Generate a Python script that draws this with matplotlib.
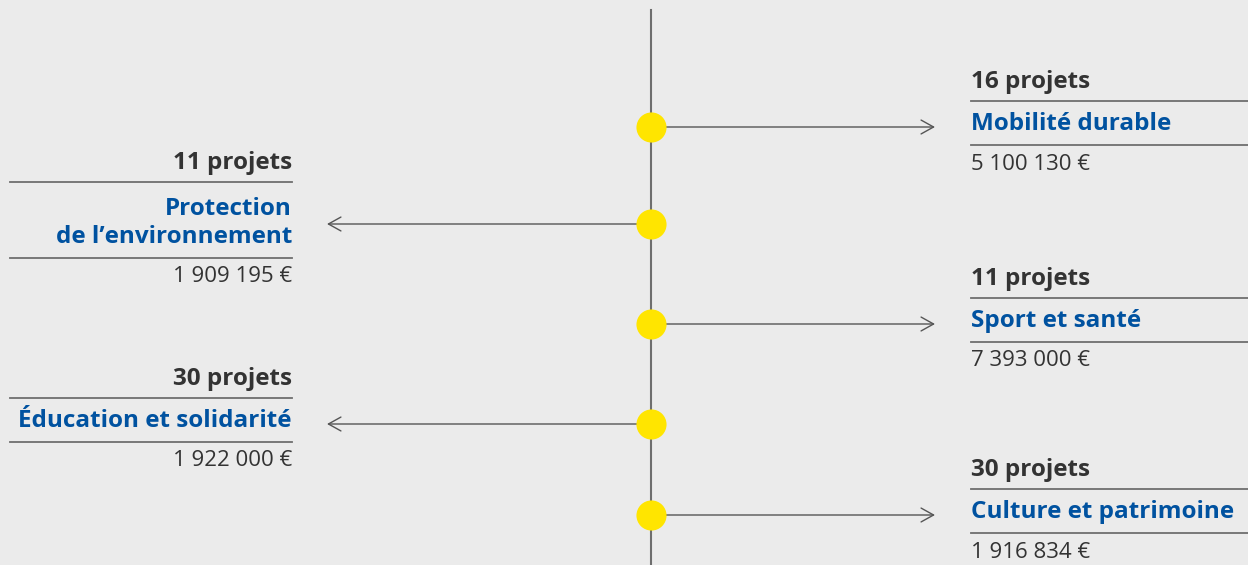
import matplotlib.pyplot as plt

plt.rcParams['font.family'] = ['Open Sans', 'DejaVu Sans']

# data
themes = ["Mobilité durable", "Protection\nde l’environnement", "Sport et santé",
          "Éducation et solidarité", "Culture et patrimoine"]
projects = [16, 11, 11, 30, 30]
amounts = ["5 100 130 €", "1 909 195 €", "7 393 000 €", "1 922 000 €", "1 916 834 €"]
sides = ["right", "left", "right", "left", "right"]

# layout (pixels)
W, H = 1248, 565
SPINE_X = 651
DOT_Y = [127, 224, 324, 424, 515]
BG = "#ebebeb"
DARK = "#333333"
BLUE = "#0052a0"
LINE = "#6e6e6e"

fig = plt.figure(figsize=(W / 100, H / 100), dpi=100, facecolor=BG)
ax = fig.add_axes([0, 0, 1, 1])
ax.set_xlim(0, W)
ax.set_ylim(H, 0)
ax.axis("off")
ax.set_facecolor(BG)

ax.plot([SPINE_X, SPINE_X], [10, H], color=LINE, lw=1.5, zorder=1)

for theme, n, amount, side, y in zip(themes, projects, amounts, sides, DOT_Y):
    if side == "right":
        x_end, x0, x1, tx, ha = 935, 971, 1248, 971, "left"
    else:
        x_end, x0, x1, tx, ha = 327, 10, 292, 292, "right"
    ax.annotate("", xy=(x_end, y), xytext=(SPINE_X, y),
                arrowprops=dict(arrowstyle="->,head_length=0.9,head_width=0.5",
                                color="#555555", lw=1.0, shrinkA=0, shrinkB=0),
                zorder=2)
    ax.scatter([SPINE_X], [y], s=470, color="#ffe500", zorder=3, linewidths=0)

    two = theme.count("\n")
    ext = 16 * two
    ax.text(tx, y - 45 - ext, f"{n} projets", ha=ha, va="center",
            fontsize=17.5, fontweight="bold", color=DARK)
    ax.plot([x0, x1], [y - 26 - ext] * 2, color=LINE, lw=1.3)
    ax.text(tx, y - 3 + 2 * two, theme, ha=ha, va="center", fontsize=17.5,
            fontweight="bold", color=BLUE, linespacing=1.22)
    ax.plot([x0, x1], [y + 18 + ext] * 2, color=LINE, lw=1.3)
    ax.text(tx, y + 37 + ext, amount, ha=ha, va="center",
            fontsize=16, color=DARK)

fig.savefig("out.png", dpi=100, facecolor=BG)
